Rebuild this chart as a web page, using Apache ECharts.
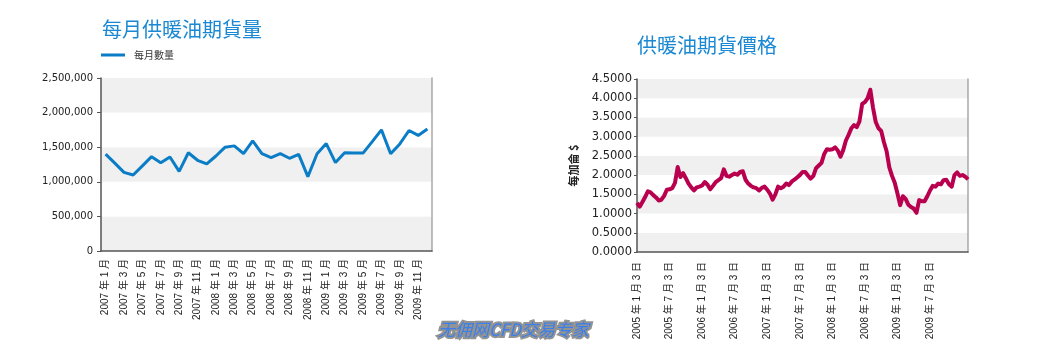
<!DOCTYPE html>
<html><head><meta charset="utf-8">
<script src="https://cdn.jsdelivr.net/npm/echarts@6/dist/echarts.min.js"></script>
<style>html,body{margin:0;padding:0;background:#fff}#c{width:1042px;height:352px}</style>
</head><body><div id="c"></div>
<script>
// ---- Left chart: monthly volume ----
const volumeYears = [2007, 2008, 2009];
const volumeCategories = [];
volumeYears.forEach(y => { for (let m = 1; m <= 12; m++) volumeCategories.push(y + ' 年 ' + m + ' 月'); });
const monthlyVolume = [1400000, 1270000, 1137000, 1099000, 1231000, 1363000, 1274000, 1358000, 1151000, 1420000, 1311000, 1259000,
  1373000, 1500000, 1519000, 1406000, 1590000, 1406000, 1349000, 1406000, 1340000, 1396000, 1075000, 1406000,
  1552000, 1278000, 1420000, 1415000, 1415000, 1580000, 1750000, 1406000, 1547000, 1741000, 1670000, 1764000];
const volumeAxis = { min: 0, max: 2500000, interval: 500000 };

// ---- Right chart: heating oil futures price (semi-monthly readings, 3rd and 18th) ----
const heatingOilPrice = [1.28, 1.18, 1.30, 1.43, 1.58, 1.55, 1.48, 1.42, 1.34, 1.36, 1.46, 1.62,
  1.63, 1.66, 1.80, 2.21, 1.95, 2.05, 1.92, 1.78, 1.68, 1.60, 1.68, 1.70,
  1.73, 1.82, 1.75, 1.63, 1.72, 1.82, 1.87, 1.92, 2.15, 1.98, 1.96, 2.00,
  2.04, 2.01, 2.08, 2.10, 1.88, 1.78, 1.72, 1.68, 1.66, 1.60, 1.67, 1.70,
  1.62, 1.52, 1.36, 1.50, 1.70, 1.66, 1.70, 1.78, 1.74, 1.83, 1.88, 1.94,
  2.00, 2.08, 2.08, 1.99, 1.91, 1.98, 2.18, 2.25, 2.32, 2.55, 2.67, 2.66,
  2.67, 2.72, 2.64, 2.48, 2.65, 2.90, 3.05, 3.22, 3.30, 3.25, 3.40, 3.85,
  3.90, 4.00, 4.22, 3.75, 3.38, 3.22, 3.15, 2.86, 2.62, 2.20, 1.98, 1.80,
  1.52, 1.22, 1.45, 1.38, 1.23, 1.17, 1.13, 1.02, 1.35, 1.32, 1.32, 1.45,
  1.60, 1.72, 1.70, 1.78, 1.76, 1.87, 1.88, 1.76, 1.70, 2.00, 2.07, 1.98,
  2.00, 1.96, 1.89];
const priceStartYear = 2005;
const priceDays = [3, 18];
const priceDates = [];
for (let y = priceStartYear; priceDates.length < heatingOilPrice.length; y++)
  for (let m = 1; m <= 12 && priceDates.length < heatingOilPrice.length; m++)
    for (const d of priceDays) if (priceDates.length < heatingOilPrice.length) priceDates.push(y + ' 年 ' + m + ' 月 ' + d + ' 日');
const priceLabelEvery = 12;
const priceLastLabel = 108;
const priceAxis = { min: 0, max: 4.5, interval: 0.5 };

const FONT = '"Liberation Sans", "Noto Sans CJK TC", sans-serif';
const CJK = '"Noto Sans CJK TC", sans-serif';
const NUMF = '"DejaVu Sans", sans-serif';
const AXIS = '#555';
const BORDER = '#a8a8a8';
const BAND = ['#f0f0f0', '#ffffff'];

const chart = echarts.init(document.getElementById('c'), null, { renderer: 'canvas' });
chart.setOption({
  animation: false,
  backgroundColor: '#ffffff',
  title: [
    { text: '每月供暖油期貨量', left: 102, top: 19, padding: 0, textStyle: { fontFamily: CJK, fontSize: 20, fontWeight: 'normal', color: '#1a88d2' } },
    { text: '供暖油期貨價格', left: 637, top: 35, padding: 0, textStyle: { fontFamily: CJK, fontSize: 20, fontWeight: 'normal', color: '#1a88d2' } }
  ],
  legend: {
    data: ['每月數量'], left: 101, top: 50, padding: 0, icon: 'rect', itemWidth: 24, itemHeight: 3, itemGap: 10,
    textStyle: { fontFamily: CJK, fontSize: 10, color: '#333', padding: [0, 0, 0, 4] }
  },
  grid: [
    { left: 101, top: 78, width: 331, height: 173, containLabel: false },
    { left: 637, top: 79, width: 331, height: 173, containLabel: false }
  ],
  xAxis: [
    { type: 'category', gridIndex: 0, data: volumeCategories, boundaryGap: true,
      axisLine: { lineStyle: { color: AXIS, width: 1.5 } }, axisTick: { show: false },
      axisLabel: { rotate: 90, interval: 1, margin: 8, fontFamily: FONT, fontSize: 10, color: '#222' } },
    { type: 'category', gridIndex: 1, data: priceDates, boundaryGap: false,
      axisLine: { lineStyle: { color: AXIS, width: 1.5 } }, axisTick: { show: false },
      axisLabel: { rotate: 90, margin: 10, fontFamily: FONT, fontSize: 10, color: '#222',
        interval: (i) => i % priceLabelEvery === 0 && i <= priceLastLabel } }
  ],
  yAxis: [
    { type: 'value', gridIndex: 0, min: volumeAxis.min, max: volumeAxis.max, interval: volumeAxis.interval,
      axisLine: { show: true, lineStyle: { color: AXIS, width: 1.5 } },
      axisTick: { show: true, length: 4, lineStyle: { color: AXIS } },
      splitLine: { show: false }, splitArea: { show: true, areaStyle: { color: BAND } },
      axisLabel: { margin: 8, fontFamily: NUMF, fontSize: 10, color: '#222', formatter: v => v.toLocaleString('en-US') } },
    { type: 'value', gridIndex: 0, position: 'right', min: 0, max: 1,
      axisLine: { show: true, lineStyle: { color: BORDER, width: 1.5 } }, axisTick: { show: false },
      axisLabel: { show: false }, splitLine: { show: false } },
    { type: 'value', gridIndex: 1, min: priceAxis.min, max: priceAxis.max, interval: priceAxis.interval,
      name: '每加侖 $', nameLocation: 'middle', nameRotate: 90, nameGap: 58,
      nameTextStyle: { fontFamily: CJK, fontSize: 11, fontWeight: 'bold', color: '#222' },
      axisLine: { show: true, lineStyle: { color: AXIS, width: 1.5 } },
      axisTick: { show: true, length: 3, lineStyle: { color: AXIS } },
      splitLine: { show: false }, splitArea: { show: true, areaStyle: { color: BAND } },
      axisLabel: { margin: 5, fontFamily: NUMF, fontSize: 11.5, color: '#222', formatter: v => v.toFixed(4) } },
    { type: 'value', gridIndex: 1, position: 'right', min: 0, max: 1,
      axisLine: { show: true, lineStyle: { color: BORDER, width: 1.5 } }, axisTick: { show: false },
      axisLabel: { show: false }, splitLine: { show: false } }
  ],
  series: [
    { name: '每月數量', type: 'line', xAxisIndex: 0, yAxisIndex: 0, data: monthlyVolume,
      showSymbol: false, symbol: 'none', lineStyle: { color: '#0a7dc6', width: 3 }, itemStyle: { color: '#0a7dc6' } },
    { name: '價格', type: 'line', xAxisIndex: 1, yAxisIndex: 2, data: heatingOilPrice,
      showSymbol: false, symbol: 'none', lineStyle: { color: '#b8004f', width: 4, join: 'round' }, itemStyle: { color: '#b8004f' } }
  ],
  graphic: [
    { type: 'text', left: 436, top: 319, z: 100,
      style: { text: '无佣网CFD交易专家', font: 'italic 17px "Noto Sans CJK SC", sans-serif',
        fill: '#3a7fea', stroke: '#939393', lineWidth: 4, strokeFirst: true,
        shadowColor: 'rgba(130,130,130,0.9)', shadowBlur: 4 } }
  ]
});
</script></body></html>
